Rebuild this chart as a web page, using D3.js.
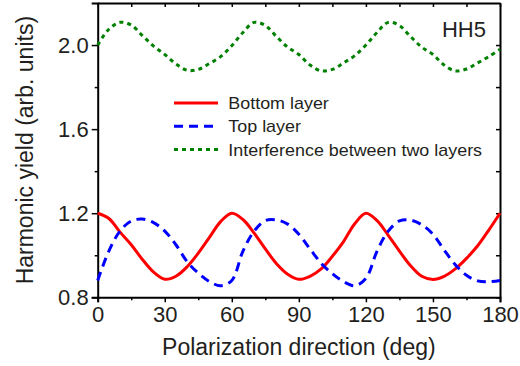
<!DOCTYPE html>
<html lang="en">
<head>
  <meta charset="utf-8">
  <title>HH5 polarization</title>
  <script src="https://d3js.org/d3.v7.min.js"></script>
  <style>
    body { margin: 0; background: #fff; }
    svg text { font-family: "Liberation Sans", Arial, sans-serif; fill: #231f20; }
    .axis path, .axis line { stroke: #000; }
    .axis path { stroke-width: 2; }
    .axis line { stroke-width: 1.5; }
  </style>
</head>
<body>
<svg id="chart" width="520" height="366"></svg>
<script>
  // polarization angle, every 5 deg
  const angles = d3.range(0, 181, 5);

  const bottomLayer = [1.20, 1.175, 1.11, 1.05, 0.98, 0.92, 0.886, 0.90, 0.945, 1.01, 1.085, 1.16,
    1.20, 1.17, 1.105, 1.03, 0.96, 0.91, 0.886, 0.90, 0.935, 0.995, 1.065, 1.15,
    1.20, 1.165, 1.095, 1.02, 0.95, 0.90, 0.885, 0.90, 0.935, 0.985, 1.045, 1.12, 1.20];

  const topLayer = [0.88, 1.02, 1.115, 1.163, 1.172, 1.155, 1.115, 1.05, 0.97, 0.915, 0.875, 0.855,
    0.88, 1.02, 1.115, 1.165, 1.168, 1.148, 1.10, 1.03, 0.962, 0.912, 0.875, 0.855,
    0.89, 1.02, 1.115, 1.163, 1.167, 1.145, 1.10, 1.025, 0.955, 0.905, 0.878, 0.874, 0.88];

  const interference = [2.0, 2.075, 2.108, 2.095, 2.045, 1.995, 1.955, 1.91, 1.88, 1.884, 1.912, 1.945,
    1.997, 2.06, 2.108, 2.093, 2.04, 1.99, 1.955, 1.905, 1.877, 1.884, 1.915, 1.95,
    2.0, 2.06, 2.108, 2.093, 2.04, 1.99, 1.955, 1.905, 1.877, 1.886, 1.915, 1.945, 1.98];

  const xTicks = [0, 30, 60, 90, 120, 150, 180];
  const yTicks = [0.8, 1.2, 1.6, 2.0];

  const series = [
    {name: "Bottom layer", values: bottomLayer, color: "#ff0000", dash: null},
    {name: "Top layer", values: topLayer, color: "#0000ff", dash: "9,6"},
    {name: "Interference between two layers", values: interference, color: "#008000", dash: "4,4"}
  ];

  const svg = d3.select("#chart");
  const mLeft = 97.7, mRight = 500, mTop = 3, mBottom = 297.3;

  const x = d3.scaleLinear().domain([0, 180]).range([mLeft, mRight]);
  const y = d3.scaleLinear().domain([0.8, 2.2]).range([mBottom, mTop]);

  const minorX = d3.range(15, 180, 30);
  const minorY = [1.0, 1.4, 1.8];

  // outward ticks bottom / left
  const xAxis = svg.append("g").attr("class", "axis")
    .attr("transform", `translate(0,${mBottom})`)
    .call(d3.axisBottom(x).tickValues(xTicks).tickSize(5).tickPadding(4).tickFormat(d3.format("d")));
  const yAxis = svg.append("g").attr("class", "axis")
    .attr("transform", `translate(${mLeft},0)`)
    .call(d3.axisLeft(y).tickValues(yTicks).tickSize(6).tickPadding(3).tickFormat(d3.format(".1f")));
  [xAxis, yAxis].forEach(g => g.selectAll("text").style("font-size", "22px").attr("fill", "#231f20"));

  svg.append("g").attr("class", "axis")
    .attr("transform", `translate(0,${mBottom})`)
    .call(d3.axisBottom(x).tickValues(minorX).tickSize(3).tickFormat(""))
    .select(".domain").remove();
  svg.append("g").attr("class", "axis")
    .attr("transform", `translate(${mLeft},0)`)
    .call(d3.axisLeft(y).tickValues(minorY).tickSize(3).tickFormat(""))
    .select(".domain").remove();

  // mirror axes, ticks inward
  svg.append("g").attr("class", "axis")
    .attr("transform", `translate(0,${mTop})`)
    .call(d3.axisBottom(x).tickValues(xTicks.concat(minorX)).tickSizeInner(4).tickSizeOuter(0).tickFormat(""));
  svg.append("g").attr("class", "axis")
    .attr("transform", `translate(${mRight},0)`)
    .call(d3.axisLeft(y).tickValues(yTicks.concat(minorY)).tickSizeInner(4).tickSizeOuter(0).tickFormat(""));

  const line = d3.line().curve(d3.curveCatmullRom.alpha(0.5));

  series.forEach(s => {
    svg.append("path")
      .attr("d", line(angles.map((a, i) => [x(a), y(s.values[i])])))
      .attr("fill", "none")
      .attr("stroke", s.color)
      .attr("stroke-width", 3)
      .attr("stroke-dasharray", s.dash);
  });

  // legend
  const legend = svg.append("g").attr("transform", "translate(174,103)");
  series.forEach((s, i) => {
    const row = legend.append("g").attr("transform", `translate(0,${i * 23.3})`);
    row.append("line")
      .attr("x1", 0).attr("x2", 44)
      .attr("stroke", s.color).attr("stroke-width", 3)
      .attr("stroke-dasharray", s.dash);
    row.append("text")
      .attr("x", 48.5).attr("y", 6)
      .attr("transform", "scale(1.12,1)")
      .style("font-size", "16px")
      .text(s.name);
  });

  svg.append("text")
    .attr("x", 486).attr("y", 37)
    .attr("text-anchor", "end")
    .style("font-size", "22px")
    .text("HH5");

  svg.append("text")
    .attr("x", (mLeft + mRight) / 2).attr("y", 355)
    .attr("text-anchor", "middle")
    .style("font-size", "23px")
    .text("Polarization direction (deg)");

  svg.append("text")
    .attr("transform", `translate(33,${(mTop + mBottom) / 2}) rotate(-90)`)
    .attr("text-anchor", "middle")
    .style("font-size", "23px")
    .text("Harmonic yield (arb. units)");
</script>
</body>
</html>
